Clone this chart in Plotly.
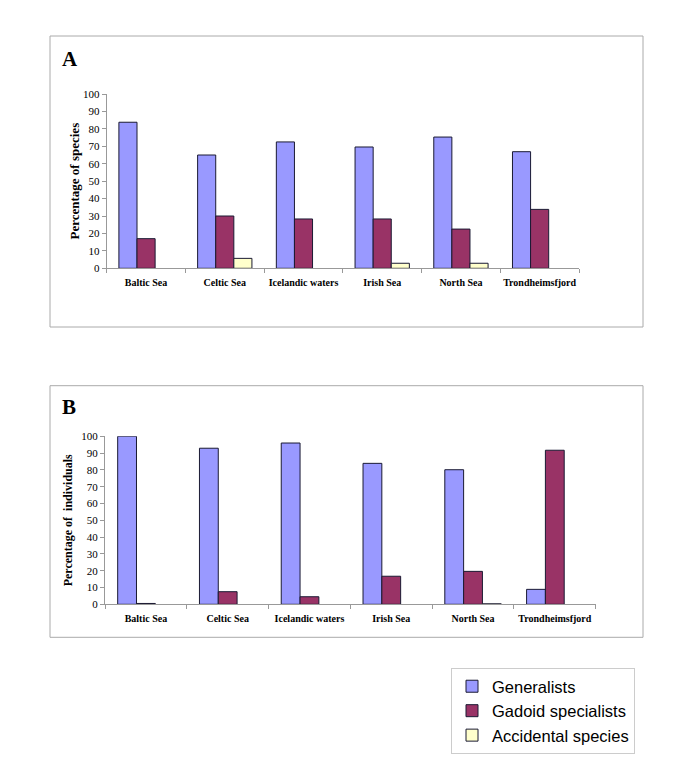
import plotly.graph_objects as go

regions = ["Baltic Sea", "Celtic Sea", "Icelandic waters", "Irish Sea", "North Sea", "Trondheimsfjord"]
series_names = ["Generalists", "Gadoid specialists", "Accidental species"]

# panel A: percentage of species
species_gen = [83.8, 65.0, 72.5, 69.6, 75.3, 66.9]
species_gad = [17.0, 30.0, 28.3, 28.3, 22.5, 33.8]
species_acc = [0.0, 5.7, 0.0, 2.9, 2.9, 0.0]

# panel B: percentage of individuals
indiv_gen = [100.0, 92.9, 96.0, 83.9, 80.1, 8.9]
indiv_gad = [0.5, 7.5, 4.5, 16.7, 19.6, 91.7]
indiv_acc = [0.0, 0.0, 0.0, 0.0, 0.3, 0.0]

y_ticks = list(range(0, 101, 10))

colors = ["#9999FF", "#993366", "#FFFFCC"]
EDGE = "#1a1a33"
W, H = 685, 781
OFF = 8  # page body margin

def px_x(v):
    return (v - OFF) / W

def px_y(v):
    return 1 - (v - OFF) / H

def outline(vals):
    # no outline drawn for empty bars
    return dict(color=EDGE, width=[0 if v == 0 else 1 for v in vals])

fig = go.Figure()

for i, (name, vals) in enumerate(zip(series_names, [species_gen, species_gad, species_acc])):
    fig.add_trace(go.Bar(
        x=regions, y=vals, name=name, xaxis="x", yaxis="y",
        marker=dict(color=colors[i], line=outline(vals)),
        showlegend=False,
    ))

for i, (name, vals) in enumerate(zip(series_names, [indiv_gen, indiv_gad, indiv_acc])):
    fig.add_trace(go.Bar(
        x=regions, y=vals, name=name, xaxis="x2", yaxis="y2",
        marker=dict(color=colors[i], line=outline(vals)),
        showlegend=False,
    ))

# legend entries (empty traces on a hidden axis so grouping is untouched)
for i, name in enumerate(series_names):
    fig.add_trace(go.Bar(
        x=[None], y=[None], name=name, xaxis="x3", yaxis="y3",
        marker=dict(color=colors[i], line=dict(color=EDGE, width=1)),
        showlegend=True,
    ))

serif = "Liberation Serif, Times New Roman, serif"
bold_labels = ["<b>" + r + "</b>" for r in regions]

common_x = dict(
    type="category", tickson="boundaries", ticks="outside", ticklen=4,
    tickcolor="#999999", showline=True, linecolor="#999999", linewidth=1,
    tickvals=regions, ticktext=bold_labels, tickangle=0, automargin=False,
    categoryorder="array", categoryarray=regions,
    tickfont=dict(family=serif, size=10, color="black"), ticklabelstandoff=5,
    showgrid=False, fixedrange=True,
)
common_y = dict(
    range=[0, 100], tickvals=y_ticks, ticks="outside", ticklen=4,
    tickcolor="#999999", showline=True, linecolor="#999999", linewidth=1,
    tickfont=dict(family=serif, size=11, color="black"), automargin=False,
    showgrid=False, zeroline=False,
)

fig.update_layout(
    width=W, height=H,
    margin=dict(l=0, r=0, t=0, b=0),
    paper_bgcolor="white", plot_bgcolor="white",
    barmode="group", bargap=0.31, bargroupgap=0,
    xaxis=dict(domain=[px_x(106.7), px_x(579)], anchor="y", **common_x),
    yaxis=dict(domain=[px_y(268.3), px_y(94)], anchor="x",
               title=dict(text="<b>Percentage of species</b>",
                          font=dict(family=serif, size=13, color="black"), standoff=0),
               **common_y),
    xaxis2=dict(domain=[px_x(105), px_x(595.7)], anchor="y2", **common_x),
    yaxis2=dict(domain=[px_y(604.3), px_y(436.3)], anchor="x2",
                title=dict(text="<b>Percentage of  individuals</b>",
                           font=dict(family=serif, size=12, color="black"), standoff=6),
                **common_y),
    xaxis3=dict(domain=[0, 0.01], anchor="y3", visible=False),
    yaxis3=dict(domain=[0, 0.01], anchor="x3", visible=False),
    legend=dict(
        x=px_x(451), y=px_y(668), xanchor="left", yanchor="top",
        bordercolor="#cccccc", borderwidth=1, bgcolor="white",
        font=dict(family="Liberation Sans, Arial, sans-serif", size=16.5, color="black"),
        itemwidth=30,
    ),
    shapes=[
        dict(type="rect", xref="paper", yref="paper",
             x0=px_x(50), x1=px_x(643), y0=px_y(327), y1=px_y(36),
             line=dict(color="#aaaaaa", width=1)),
        dict(type="rect", xref="paper", yref="paper",
             x0=px_x(50), x1=px_x(643), y0=px_y(637.3), y1=px_y(385.7),
             line=dict(color="#aaaaaa", width=1)),
    ],
    annotations=[
        dict(text="<b>A</b>", x=px_x(60), y=px_y(59), xref="paper", yref="paper",
             xanchor="left", yanchor="middle", showarrow=False,
             font=dict(family=serif, size=21, color="black")),
        dict(text="<b>B</b>", x=px_x(60), y=px_y(407), xref="paper", yref="paper",
             xanchor="left", yanchor="middle", showarrow=False,
             font=dict(family=serif, size=21, color="black")),
    ],
)

fig.write_html("out.html")
